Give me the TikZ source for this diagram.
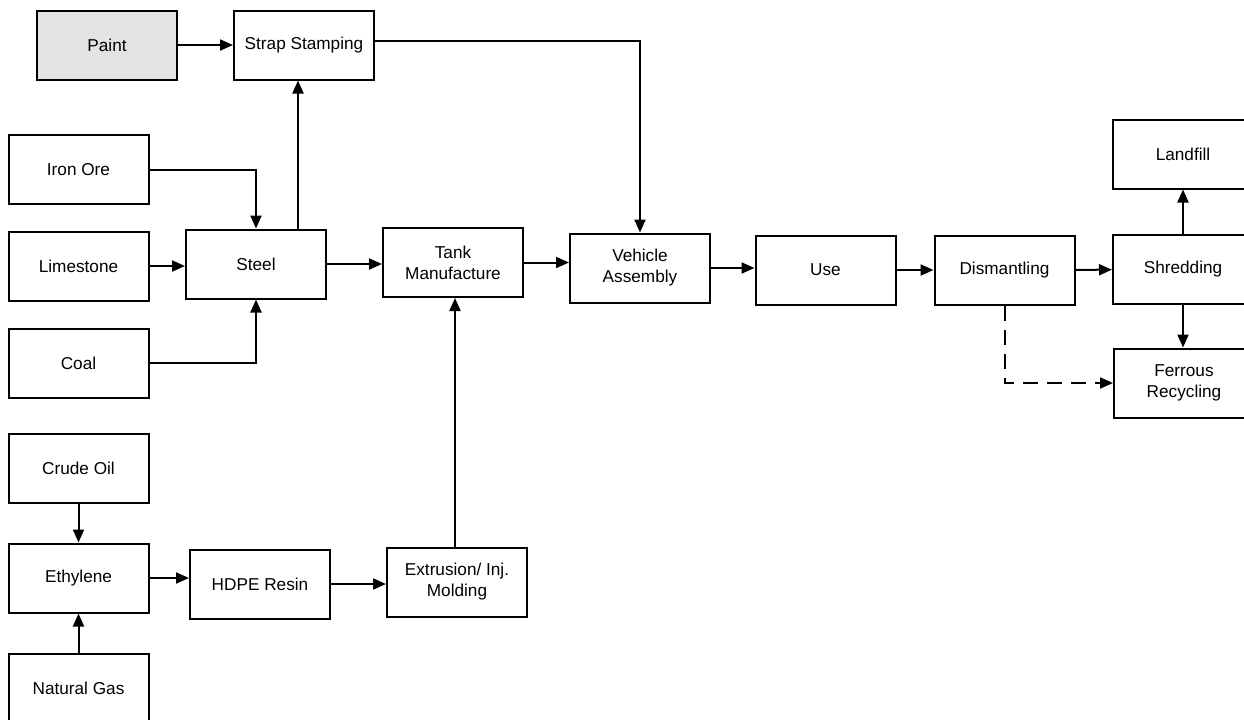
\documentclass[tikz,border=0pt]{standalone}
\usepackage{fontspec}
\setmainfont{Liberation Sans}
\usetikzlibrary{arrows.meta,positioning}
\definecolor{paintgray}{gray}{0.89}
\tikzset{
	proc/.style={
		draw,line width=1pt, %plain process box
		minimum width=70pt,minimum height=34.5pt,inner sep=0pt,
		align=center,font=\fontsize{8.6}{10.5}\selectfont},
	src/.style={proc,fill=paintgray},
	flow/.style={line width=1pt,-{Triangle[length=6.5pt,width=5.5pt]}}
}

\begin{document}
\begin{tikzpicture}[x=0.5pt,y=-0.5pt]
			\useasboundingbox (0,0) rectangle (1244,719);
			\clip (0,0) rectangle (1244,719);
			% steel branch
			\node[src]  (paint)     at (107,45)    {Paint};
			\node[proc] (strap)     at (304,45)    {Strap Stamping};
			\node[proc] (ironore)   at (78.5,169.5) {Iron Ore};
			\node[proc] (limestone) at (78.5,266)  {Limestone};
			\node[proc] (coal)      at (78.5,363)  {Coal};
			\node[proc] (steel)     at (256,264)   {Steel};
			% main line
			\node[proc] (tank)      at (453,262.5) {Tank\\Manufacture};
			\node[proc] (vehicle)   at (640,268)   {Vehicle\\Assembly};
			\node[proc] (use)       at (825.5,270) {Use};
			\node[proc] (dismantle) at (1004.5,270) {Dismantling};
			\node[proc] (shred)     at (1183,269.5) {Shredding};
			\node[proc] (landfill)  at (1183,154)  {Landfill};
			\node[proc] (ferrous)   at (1184,383)  {Ferrous\\Recycling};
			% plastics branch
			\node[proc] (crude)     at (78.5,468)  {Crude Oil};
			\node[proc] (ethylene)  at (78.5,578)  {Ethylene};
			\node[proc] (natgas)    at (78.5,688)  {Natural Gas};
			\node[proc] (hdpe)      at (260,584)   {HDPE Resin};
			\node[proc] (extrusion) at (457,582)   {Extrusion/ Inj.\\Molding};

			\draw[flow] (paint) -- (strap);
			\draw[flow] (ironore) -| (steel);
			\draw[flow] (limestone.east) -- (limestone.east -| steel.west);
			\draw[flow] (coal) -| (steel);
			\draw[flow] ([xshift=21pt]steel.north) -- ([xshift=21pt]steel.north |- strap.south);
			\draw[flow] ([yshift=2pt]strap.east) -| (vehicle);
			\draw[flow] (steel.east) -- (steel.east -| tank.west);
			\draw[flow] (tank.east) -- (tank.east -| vehicle.west);
			\draw[flow] (vehicle.east) -- (vehicle.east -| use.west);
			\draw[flow] (use) -- (dismantle);
			\draw[flow] (dismantle) -- (shred);
			\draw[flow] (shred) -- (landfill);
			\draw[flow] (shred.south) -- (shred.south |- ferrous.north);
			\draw[flow,dash pattern=on 7.5pt off 4.5pt] (dismantle) |- (ferrous);
			\draw[flow] (crude) -- (ethylene);
			\draw[flow] (natgas) -- (ethylene);
			\draw[flow] (ethylene.east) -- (ethylene.east -| hdpe.west);
			\draw[flow] (hdpe.east) -- (hdpe.east -| extrusion.west);
			\draw[flow] ([xshift=-1pt]extrusion.north) -- ([xshift=-1pt]extrusion.north |- tank.south);
\end{tikzpicture}
\end{document}
